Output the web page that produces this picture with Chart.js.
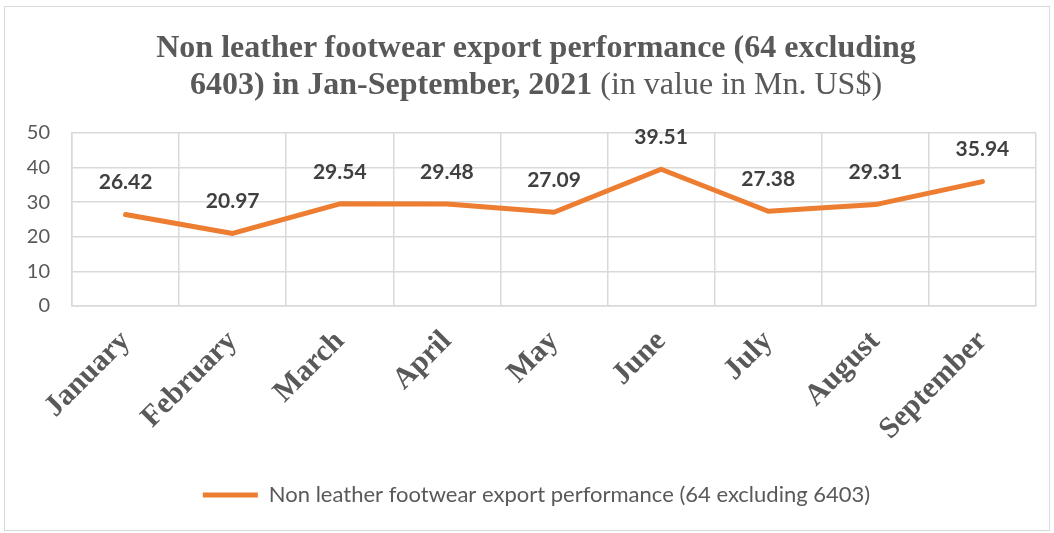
<!DOCTYPE html>
<html>
<head>
<meta charset="utf-8">
<script src="https://cdn.jsdelivr.net/npm/chart.js@4.4.1/dist/chart.umd.min.js"></script>
<style>
  html, body { margin: 0; padding: 0; background: #fff; }
  #box {
    position: absolute; left: 4px; top: 6px; width: 1046px; height: 525px;
    border: 1px solid #d9d9d9; box-sizing: border-box;
  }
  #title {
    position: absolute; left: 9px; top: 28px; width: 1054px;
    text-align: center; color: #595959;
    font-family: "Liberation Serif", "Times New Roman", serif;
    font-size: 32px; line-height: 37px;
  }
  #title b { font-weight: bold; }
  #chartWrap { position: absolute; left: 0; top: 0; width: 1044px; height: 523px; }
</style>
</head>
<body>
<div id="box">
  <div id="chartWrap"><canvas id="exportChart"></canvas></div>
</div>
<div id="title"><b>Non leather footwear export performance (64 excluding<br>6403) in Jan-September, 2021</b> (in value in Mn. US$)</div>
<script>
const months = ['January', 'February', 'March', 'April', 'May', 'June', 'July', 'August', 'September'];
const exportValues = [26.42, 20.97, 29.54, 29.48, 27.09, 39.51, 27.38, 29.31, 35.94];
const yTicks = [0, 10, 20, 30, 40, 50];
const seriesName = 'Non leather footwear export performance (64 excluding 6403)';

// draws the value above each point (no datalabels plugin offline)
const valueLabels = {
    id: 'valueLabels',
    afterDatasetsDraw(chart) {
        const ctx = chart.ctx;
        const meta = chart.getDatasetMeta(0);
        ctx.save();
        ctx.font = 'bold 21px Lato';
        ctx.fillStyle = '#404040';
        ctx.textAlign = 'center';
        ctx.textBaseline = 'middle';
        meta.data.forEach((pt, i) => {
            ctx.fillText(exportValues[i].toFixed(2), pt.x, pt.y - 32);
        });
        ctx.restore();
    }
};

// legend sits a bit right of centre in the original
const legendNudge = {
    id: 'legendNudge',
    afterLayout(chart) {
        if (!chart.legend) return;
        chart.legend.left += 16;
        chart.legend.right += 16;
    }
};

const ctx = document.getElementById('exportChart').getContext('2d');
new Chart(ctx, {
    type: 'line',
    data: {
        labels: months,
        datasets: [{
            label: seriesName,
            data: exportValues,
            borderColor: '#ED7D31',
            backgroundColor: '#ED7D31',
            borderWidth: 5,
            borderCapStyle: 'round',
            borderJoinStyle: 'round',
            pointRadius: 0,
            pointStyle: 'line',
            tension: 0
        }]
    },
    options: {
        responsive: true,
        maintainAspectRatio: false,
        animation: false,
        layout: {
            padding: { top: 126, left: 0, right: 13, bottom: 14 }
        },
        plugins: {
            legend: {
                position: 'bottom',
                labels: {
                    usePointStyle: true,
                    pointStyleWidth: 55,
                    color: '#595959',
                    font: { family: 'Lato', size: 22 },
                    padding: 10
                }
            },
            tooltip: { enabled: false }
        },
        scales: {
            x: {
                offset: true,
                grid: { offset: true, color: '#d9d9d9', lineWidth: 1.5, drawTicks: false },
                border: { color: '#d9d9d9', width: 1.5 },
                ticks: {
                    color: '#595959',
                    font: { family: 'Liberation Serif', size: 30, weight: 'bold' },
                    minRotation: 45,
                    maxRotation: 45,
                    padding: 18
                },
                afterFit(scale) { scale.height = 168; }
            },
            y: {
                min: 0,
                max: 50,
                afterBuildTicks(scale) { scale.ticks = yTicks.map(v => ({ value: v })); },
                grid: { color: '#d9d9d9', lineWidth: 1.5, drawTicks: false },
                border: { color: '#d9d9d9', width: 1.5 },
                ticks: {
                    color: '#595959',
                    font: { family: 'Lato', size: 20 },
                    padding: 22
                },
                afterFit(scale) { scale.width = 67; }
            }
        }
    },
    plugins: [valueLabels, legendNudge]
});
</script>
</body>
</html>
